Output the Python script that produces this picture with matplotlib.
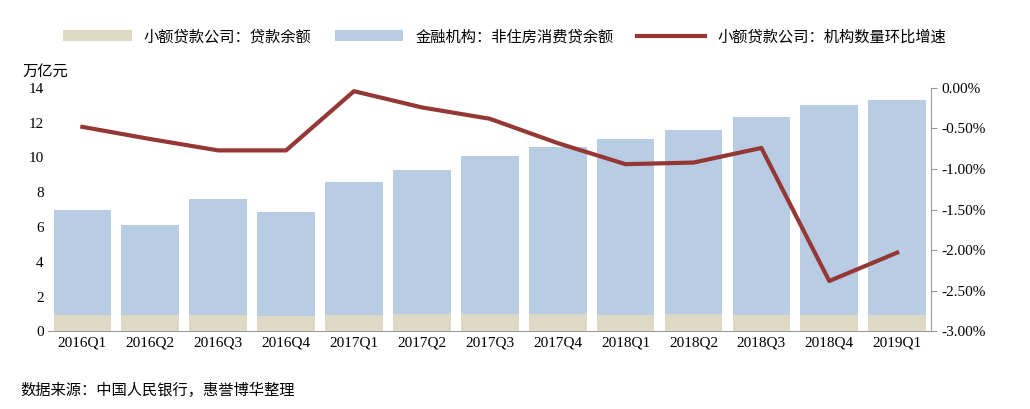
import matplotlib
matplotlib.use("Agg")
import matplotlib.pyplot as plt
from matplotlib.ticker import FuncFormatter

quarters = ["2016Q1","2016Q2","2016Q3","2016Q4","2017Q1","2017Q2","2017Q3","2017Q4",
            "2018Q1","2018Q2","2018Q3","2018Q4","2019Q1"]
small_loans = [0.95,0.93,0.92,0.90,0.95,0.97,0.97,0.98,0.96,0.98,0.96,0.93,0.92]
consumer_loans = [7.0,6.1,7.6,6.85,8.6,9.3,10.1,10.6,11.05,11.6,12.3,13.0,13.3]
growth = [-0.48,-0.63,-0.77,-0.77,-0.04,-0.24,-0.38,-0.68,-0.94,-0.92,-0.74,-2.38,-2.03]

cjk = "Noto Sans CJK SC"
fig = plt.figure(figsize=(10.3,4.09), dpi=100)
ax = fig.add_axes([0.047,0.19,0.857,0.595])
x = range(len(quarters))
ax.bar(x, consumer_loans, width=0.85, color="#b8cce4", label="金融机构：非住房消费贷余额", zorder=2)
ax.bar(x, small_loans, width=0.85, color="#ddd9c4", label="小额贷款公司：贷款余额", zorder=3)
ax.set_ylim(0,14)
ax.set_yticks(range(0,15,2))
ax.set_xlim(-0.5,12.5)
ax.set_xticks(list(x))
ax.set_xticklabels(quarters, fontfamily="Liberation Serif", fontsize=11)
for t in ax.get_yticklabels():
    t.set_fontfamily("Liberation Serif"); t.set_fontsize(11)
ax.tick_params(length=0)
for s in ["top","right","left"]:
    ax.spines[s].set_visible(False)
ax.spines["bottom"].set_color("#999999")

ax2 = ax.twinx()
ax2.plot(list(x), growth, color="#953735", lw=3, label="小额贷款公司：机构数量环比增速", zorder=4)
ax2.set_ylim(-3.0,0.0)
ax2.set_yticks([0,-0.5,-1,-1.5,-2,-2.5,-3])
ax2.yaxis.set_major_formatter(FuncFormatter(lambda v,p: f"{v:.2f}%"))
for t in ax2.get_yticklabels():
    t.set_fontfamily("Liberation Serif"); t.set_fontsize(11)
ax2.tick_params(axis="y", direction="out", length=4, color="#999999")
for s in ["top","left","bottom"]:
    ax2.spines[s].set_visible(False)
ax2.spines["right"].set_color("#999999")

h1,l1 = ax.get_legend_handles_labels()
h2,l2 = ax2.get_legend_handles_labels()
fig.legend([h1[1],h1[0],h2[0]],[l1[1],l1[0],l2[0]], loc="upper center", ncol=3,
           bbox_to_anchor=(0.49,0.965), frameon=False, prop={"family":cjk,"size":11},
           handlelength=4.5, columnspacing=1.5)
fig.text(0.022,0.815,"万亿元", fontfamily=cjk, fontsize=11)
fig.text(0.02,0.035,"数据来源：中国人民银行，惠誉博华整理", fontfamily=cjk, fontsize=11)
fig.savefig("out.png", dpi=100)
